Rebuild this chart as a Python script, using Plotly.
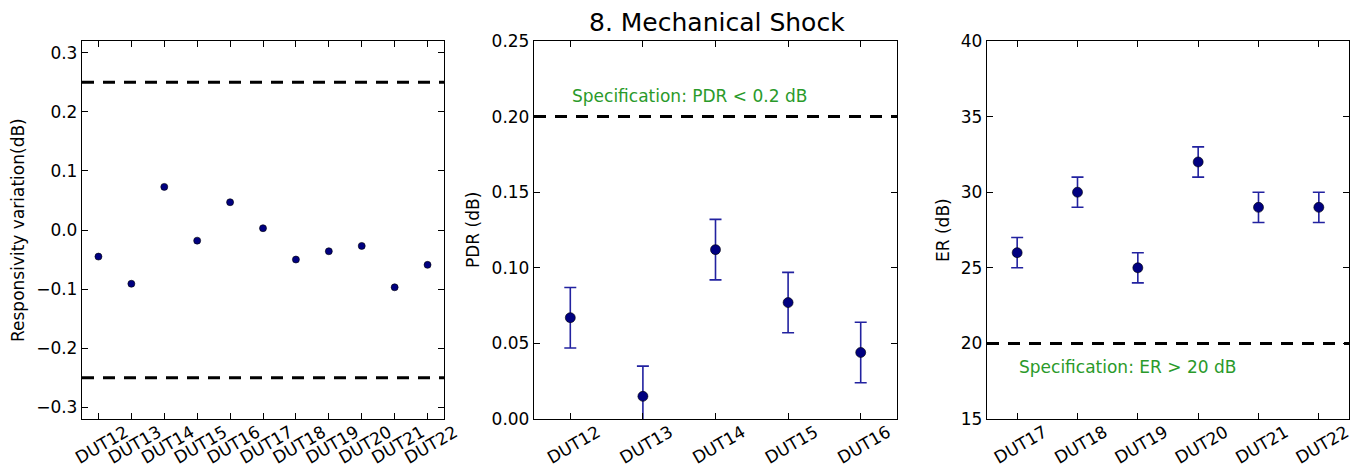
import plotly.graph_objects as go

# ---------------- data ----------------
resp_duts = ["DUT12", "DUT13", "DUT14", "DUT15", "DUT16", "DUT17",
             "DUT18", "DUT19", "DUT20", "DUT21", "DUT22"]
resp_var = [-0.045, -0.091, 0.073, -0.018, 0.047, 0.003,
            -0.050, -0.036, -0.027, -0.097, -0.059]
resp_limits = [0.25, -0.25]

pdr_duts = ["DUT12", "DUT13", "DUT14", "DUT15", "DUT16"]
pdr_vals = [0.067, 0.015, 0.112, 0.077, 0.044]
pdr_err = [0.02, 0.02, 0.02, 0.02, 0.02]
pdr_spec = 0.2
pdr_spec_text = "Specification: PDR < 0.2 dB"

er_duts = ["DUT17", "DUT18", "DUT19", "DUT20", "DUT21", "DUT22"]
er_vals = [26, 30, 25, 32, 29, 29]
er_err = [1, 1, 1, 1, 1, 1]
er_spec = 20
er_spec_text = "Specification: ER > 20 dB"

title_text = "8. Mechanical Shock"

# ---------------- style ----------------
FONT = "DejaVu Sans"
W, H = 1351, 472
MARK = "#000080"
ECOL = "#2222a0"
DASH = "12px,9px"

def px(x):
    return x / W

def py(y):
    return 1 - y / H

ydom = [py(419), py(41)]
xdoms = [[px(82), px(444)], [px(534), px(897)], [px(987), px(1349)]]

fig = go.Figure()

fig.add_trace(go.Scatter(
    x=resp_duts, y=resp_var, mode="markers", xaxis="x", yaxis="y",
    marker=dict(size=7, color=MARK, line=dict(color="black", width=0.6)),
    showlegend=False))

fig.add_trace(go.Scatter(
    x=pdr_duts, y=pdr_vals, mode="markers", xaxis="x2", yaxis="y2",
    marker=dict(size=10, color=MARK, line=dict(color="black", width=0.6)),
    error_y=dict(type="data", array=pdr_err, visible=True, color=ECOL,
                 thickness=1.6, width=6),
    showlegend=False))

fig.add_trace(go.Scatter(
    x=er_duts, y=er_vals, mode="markers", xaxis="x3", yaxis="y3",
    marker=dict(size=10, color=MARK, line=dict(color="black", width=0.6)),
    error_y=dict(type="data", array=er_err, visible=True, color=ECOL,
                 thickness=1.6, width=6),
    showlegend=False))

# dashed specification lines
shapes = []
for v in resp_limits:
    shapes.append(dict(type="line", xref="x domain", yref="y", x0=0, x1=1,
                       y0=v, y1=v, line=dict(color="black", width=3, dash=DASH)))
shapes.append(dict(type="line", xref="x2 domain", yref="y2", x0=0, x1=1,
                   y0=pdr_spec, y1=pdr_spec,
                   line=dict(color="black", width=3, dash=DASH)))
shapes.append(dict(type="line", xref="x3 domain", yref="y3", x0=0, x1=1,
                   y0=er_spec, y1=er_spec,
                   line=dict(color="black", width=3, dash=DASH)))

tickfont = dict(family=FONT, size=17, color="black")

def xax(dom, anchor, n):
    return dict(domain=dom, anchor=anchor, type="category",
                range=[-0.5, n - 0.5], showline=True, linecolor="black",
                linewidth=1.3, mirror="ticks", ticks="inside", ticklen=6,
                tickcolor="black", tickwidth=1, tickangle=-30,
                ticklabelshift=27, ticklabelstandoff=-4, automargin=False,
                tickfont=tickfont, showgrid=False, zeroline=False)

def yax(dom, anchor, rng, dtick, fmt):
    return dict(domain=dom, anchor=anchor, range=rng, dtick=dtick,
                tick0=0, tickformat=fmt, showline=True, linecolor="black",
                linewidth=1.3, mirror="ticks", ticks="inside", ticklen=6,
                tickcolor="black", tickwidth=1, tickfont=tickfont,
                automargin=False, showgrid=False, zeroline=False)

annotations = [
    dict(text=title_text, xref="paper", yref="paper", x=px(717), y=py(22.5),
         xanchor="center", yanchor="middle", showarrow=False,
         font=dict(family=FONT, size=25, color="black")),
    dict(text="Responsivity variation(dB)", xref="paper", yref="paper",
         x=px(18), y=py(230), textangle=-90, xanchor="center",
         yanchor="middle", showarrow=False,
         font=dict(family=FONT, size=17, color="black")),
    dict(text="PDR (dB)", xref="paper", yref="paper",
         x=px(473), y=py(230), textangle=-90, xanchor="center",
         yanchor="middle", showarrow=False,
         font=dict(family=FONT, size=17, color="black")),
    dict(text="ER (dB)", xref="paper", yref="paper",
         x=px(943), y=py(230), textangle=-90, xanchor="center",
         yanchor="middle", showarrow=False,
         font=dict(family=FONT, size=17, color="black")),
    dict(text=pdr_spec_text, xref="x2", yref="y2", x=0, y=0.2135,
         xanchor="left", yanchor="middle", showarrow=False,
         font=dict(family=FONT, size=17, color="#2a9a2a")),
    dict(text=er_spec_text, xref="x3", yref="y3", x=0, y=18.45,
         xanchor="left", yanchor="middle", showarrow=False,
         font=dict(family=FONT, size=17, color="#2a9a2a")),
]

fig.update_layout(
    width=W, height=H,
    margin=dict(l=0, r=0, t=0, b=0, autoexpand=False),
    paper_bgcolor="white", plot_bgcolor="white",
    font=dict(family=FONT, color="black"),
    xaxis=xax(xdoms[0], "y", len(resp_duts)),
    xaxis2=xax(xdoms[1], "y2", len(pdr_duts)),
    xaxis3=xax(xdoms[2], "y3", len(er_duts)),
    yaxis=yax(ydom, "x", [-0.32, 0.32], 0.1, ".1f"),
    yaxis2=yax(ydom, "x2", [0, 0.25], 0.05, ".2f"),
    yaxis3=yax(ydom, "x3", [15, 40], 5, "d"),
    shapes=shapes,
    annotations=annotations,
)

fig.write_html("out.html")
